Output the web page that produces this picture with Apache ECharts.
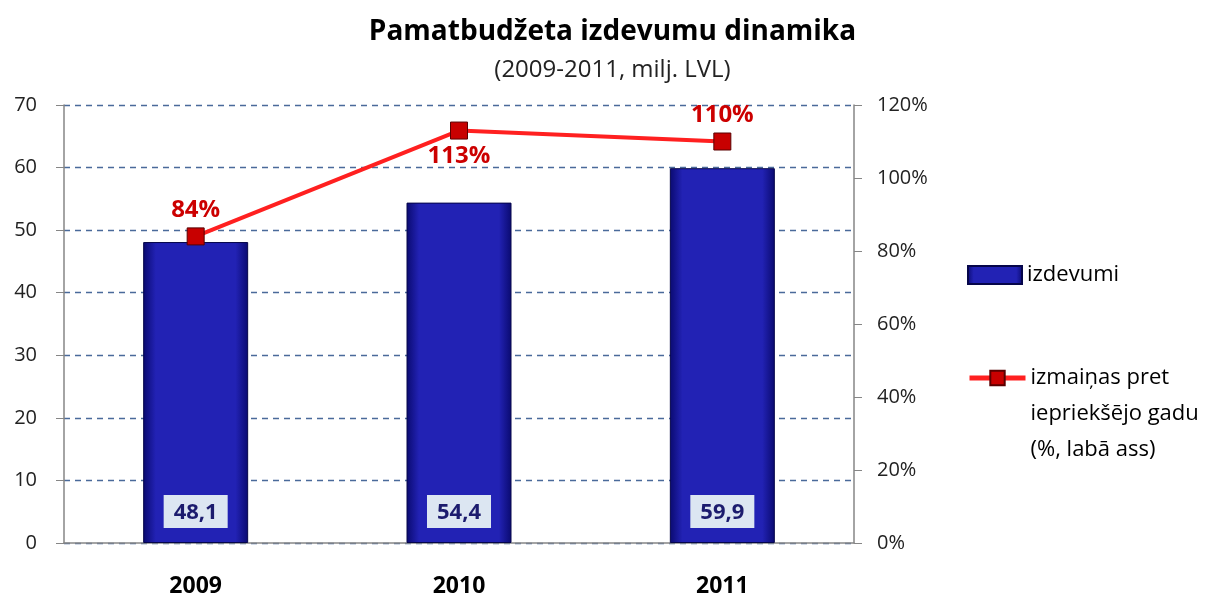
<!DOCTYPE html>
<html><head><meta charset="utf-8">
<script src="https://cdn.jsdelivr.net/npm/echarts@6/dist/echarts.min.js"></script>
<style>html,body{margin:0;padding:0;background:#fff}#c{width:1225px;height:602px}</style>
</head><body><div id="c"></div>
<script>
const categories = ['2009', '2010', '2011'];
const spending = [48.1, 54.4, 59.9];
const changePct = [84, 113, 110];
const changeLabelPos = ['top', 'bottom', 'top'];
const leftTicks = [0, 70, 10];
const rightTicks = [0, 120, 20];
const barName = 'izdevumi';
const lineName = 'izmaiņas pret iepriekšējo gadu (%, labā ass)';
const lineLegendLines = ['izmaiņas pret', 'iepriekšējo gadu', '(%, labā ass)'];
const titleText = 'Pamatbudžeta izdevumu dinamika';
const subtitleText = '(2009-2011, milj. LVL)';

const FONT = 'Open Sans';
const chart = echarts.init(document.getElementById('c'));
chart.setOption({
  animation: false,
  title: {
    text: titleText, subtext: subtitleText, left: 'center', top: 13, itemGap: 12,
    textStyle: { fontFamily: FONT, fontWeight: 'bold', fontSize: 28, color: '#000' },
    subtextStyle: { fontFamily: FONT, fontSize: 24, color: '#222' }
  },
  grid: { left: 64, right: 371, top: 105, bottom: 59 },
  legend: [
    { left: 962, top: 259, orient: 'vertical', data: [barName], itemWidth: 54, itemHeight: 18, icon: 'rect',
      textStyle: { fontFamily: FONT, fontSize: 22, color: '#000' } },
    { left: 962, top: 283, orient: 'vertical', data: [lineName], itemWidth: 56, itemHeight: 18, itemGap: 0,
      lineStyle: { width: 5, color: '#ff2020' },
      formatter: () => '\n\n' + lineLegendLines.join('\n'),
      textStyle: { fontFamily: FONT, fontSize: 22, color: '#000', lineHeight: 36 } }
  ],
  xAxis: {
    type: 'category', data: categories,
    axisLine: { lineStyle: { color: '#868686', width: 1.5 } },
    axisTick: { show: false },
    axisLabel: { fontFamily: FONT, fontWeight: 'bold', fontSize: 23, color: '#000', margin: 32 }
  },
  yAxis: [
    { type: 'value', min: leftTicks[0], max: leftTicks[1], interval: leftTicks[2],
      axisLine: { show: true, lineStyle: { color: '#868686', width: 1.5 } },
      axisTick: { show: true, length: 8, lineStyle: { color: '#868686' } },
      axisLabel: { fontFamily: FONT, fontSize: 20, color: '#222', margin: 27 },
      splitLine: { lineStyle: { color: '#4a6a9a', type: [6, 5], width: 1.3 } } },
    { type: 'value', min: rightTicks[0], max: rightTicks[1], interval: rightTicks[2],
      axisLine: { show: true, lineStyle: { color: '#868686', width: 1.5 } },
      axisTick: { show: true, length: 8, lineStyle: { color: '#868686' } },
      axisLabel: { fontFamily: FONT, fontSize: 20, color: '#222', margin: 23, formatter: '{value}%' },
      splitLine: { show: false } }
  ],
  series: [
    { name: barName, type: 'bar', data: spending, barWidth: 105, yAxisIndex: 0,
      itemStyle: {
        color: new echarts.graphic.LinearGradient(0, 0, 1, 0, [
          { offset: 0, color: '#0a0a70' }, { offset: 0.12, color: '#2222b4' },
          { offset: 0.88, color: '#2222b4' }, { offset: 1, color: '#0a0a70' }]),
        borderColor: '#06064a', borderWidth: 1
      },
      label: { show: true, position: 'insideBottom', distance: 15,
        formatter: p => String(p.value).replace('.', ','),
        fontFamily: FONT, fontWeight: 'bold', fontSize: 22, color: '#1c1c6e',
        backgroundColor: '#dce6f2', padding: [7, 10, 4, 10] } },
    { name: lineName, type: 'line', data: changePct.map((v, i) => ({ value: v, label: { position: changeLabelPos[i] } })),
      yAxisIndex: 1, symbol: 'rect', symbolSize: 17,
      lineStyle: { color: '#ff2020', width: 4 },
      itemStyle: { color: '#c80000', borderColor: '#5a0000', borderWidth: 1 },
      label: { show: true, formatter: '{c}%', distance: 5,
        fontFamily: FONT, fontWeight: 'bold', fontSize: 24, color: '#cc0000' } }
  ]
});
</script></body></html>
